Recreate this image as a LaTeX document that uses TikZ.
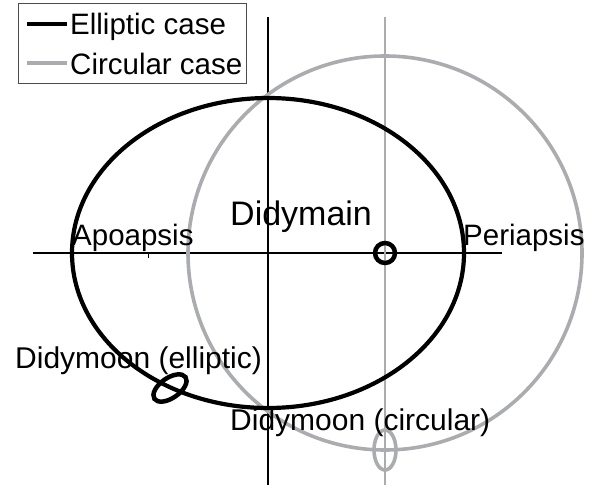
\documentclass[tikz,border=0pt]{standalone}
\usepackage{fontspec}
\setmainfont{Liberation Sans}
\usepackage{tikz}
\usetikzlibrary{positioning}
\definecolor{circgray}{RGB}{170,172,175}

\begin{document}
\begin{tikzpicture}[x=1pt, y=-1pt,
    lbl/.style={font=\fontsize{30}{35}\selectfont, inner sep=0pt, anchor=base west},
    orbitell/.style={line width=4.2pt, black},
    orbitcirc/.style={line width=3.6pt, circgray}]
	\useasboundingbox (0,0) rectangle (601,489);
	% axes
	\draw[line width=1.6pt] (33,253) -- (502,253);
	\draw[line width=1.6pt] (268,17) -- (268,485);
	\draw[line width=2pt, circgray] (385,17) -- (385,485);
	\draw[line width=1pt] (148,253) -- (148,258);
	% orbits
	\draw[orbitcirc] (385,253) circle (197);
	\draw[orbitell] (268,253) ellipse [x radius=196, y radius=155];
	% bodies
	\draw[line width=4.5pt] (385,253) circle (10);
	\draw[orbitell, line width=4.5pt] (170,388) ellipse [x radius=19, y radius=10, rotate=35];
	\draw[orbitcirc] (385,450) ellipse [x radius=11, y radius=20];
	% labels
	\node[lbl, font=\fontsize{29.5}{34}\selectfont] (apo) at (72,245) {Apoapsis};
	\node[lbl, font=\fontsize{29.5}{34}\selectfont] (peri) at (463,245) {Periapsis};
	\node[lbl, font=\fontsize{34}{40}\selectfont] (main) at (230,225) {Didymain};
	\node[lbl] (moonell) at (15,368) {Didymoon (elliptic)};
	\node[lbl] (mooncirc) at (230,430) {Didymoon (circular)};
	% legend
	\draw[line width=0.8pt, black!70] (18,3) rectangle (246,83);
	\draw[line width=4.5pt] (27,24) -- (67,24);
	\draw[line width=4.5pt, circgray] (27,63) -- (67,63);
	\node[lbl, font=\fontsize{29.5}{35}\selectfont] (legell) at (70,35) {Elliptic case};
	\node[lbl, font=\fontsize{29.5}{35}\selectfont] (legcirc) at (70,75) {Circular case};
\end{tikzpicture}
\end{document}
